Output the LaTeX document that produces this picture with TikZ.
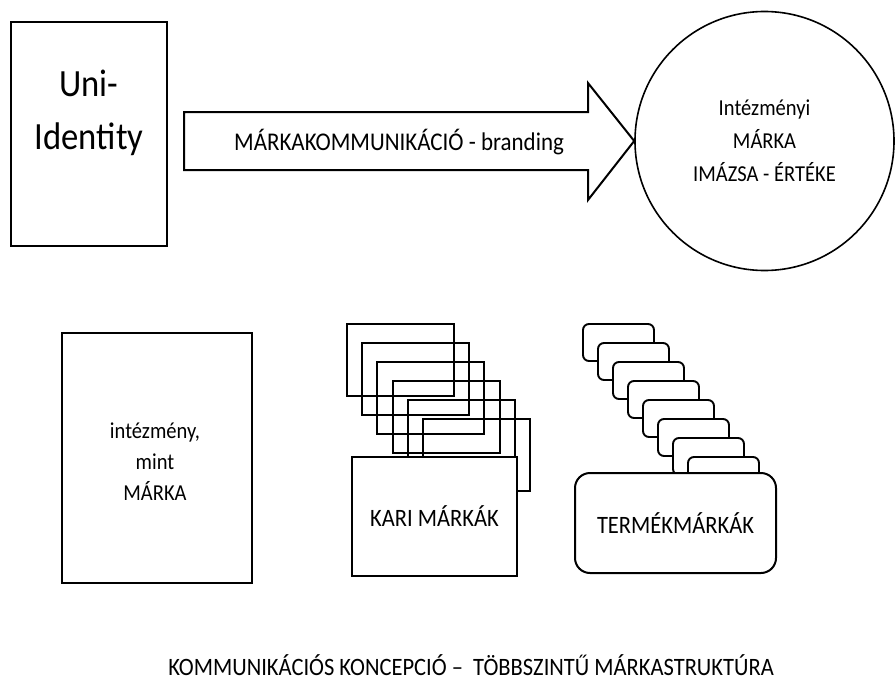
\documentclass[tikz,border=0pt]{standalone}
\usepackage{fontspec}
\setmainfont{Carlito}[FakeStretch=0.9]
\begin{document}
\begin{tikzpicture}[x=1pt,y=-1pt,
  box/.style={draw, line width=2pt, fill=white, inner sep=0pt},
  stk/.style={draw, line width=1.9pt},
  txt/.style={inner sep=0pt, align=center},
]
\useasboundingbox (0,0) rectangle (895,680);
\fill[white] (0,0) rectangle (895,680);

% top row
\node[box, minimum width=156pt, minimum height=224pt] (uni) at (89,134) {};
\node[txt, font=\fontsize{38.5}{53}\selectfont] (unitext) at (89,113) {Uni-\\Identity};

\node[draw, circle, line width=1.6pt, minimum size=259pt, inner sep=0pt] (circ) at (764.5,141) {};
\node[txt, font=\fontsize{22.8}{33}\selectfont] (circtext) at (764.5,141) {Intézményi\\MÁRKA\\IMÁZSA - ÉRTÉKE};

\coordinate (a1) at (184,112);
\coordinate (a2) at (588,112);
\coordinate (a3) at (588,83);
\coordinate (a5) at (588,200);
\coordinate (a6) at (588,170);
\coordinate (a7) at (184,170);
\draw[line width=2pt, line join=miter] (a1) -- (a2) -- (a3) -- (circ.west) -- (a5) -- (a6) -- (a7) -- cycle;
\node[txt, anchor=base, font=\fontsize{25.5}{30}\selectfont] (arrowtext) at (399,150) {MÁRKAKOMMUNIKÁCIÓ - branding};

% bottom row
\node[box, minimum width=190pt, minimum height=250pt] (intez) at (157,458) {};
\node[txt, font=\fontsize{22.8}{31}\selectfont] (inteztext) at (155,462) {intézmény,\\mint\\MÁRKA};

\foreach \i in {0,...,5}
  \draw[stk] ({347+15.2*\i},{324+19*\i}) rectangle +(107,72);
\node[box, minimum width=165pt, minimum height=119pt, font=\fontsize{25}{30}\selectfont] (kari) at (434.5,516.5) {KARI MÁRKÁK};

\foreach \i in {0,...,7}
  \draw[stk, rounded corners=6pt, fill=white] ({583+15*\i},{324+19*\i}) rectangle +(71,37);
\node[box, rounded corners=15pt, minimum width=201pt, minimum height=100pt, font=\fontsize{25}{30}\selectfont] (termek) at (675.5,523) {TERMÉKMÁRKÁK};

\node[txt, anchor=base, font=\fontsize{25}{30}\selectfont] (caption) at (471,675) {KOMMUNIKÁCIÓS KONCEPCIÓ –\ \ TÖBBSZINTŰ MÁRKASTRUKTÚRA};
\end{tikzpicture}
\end{document}
